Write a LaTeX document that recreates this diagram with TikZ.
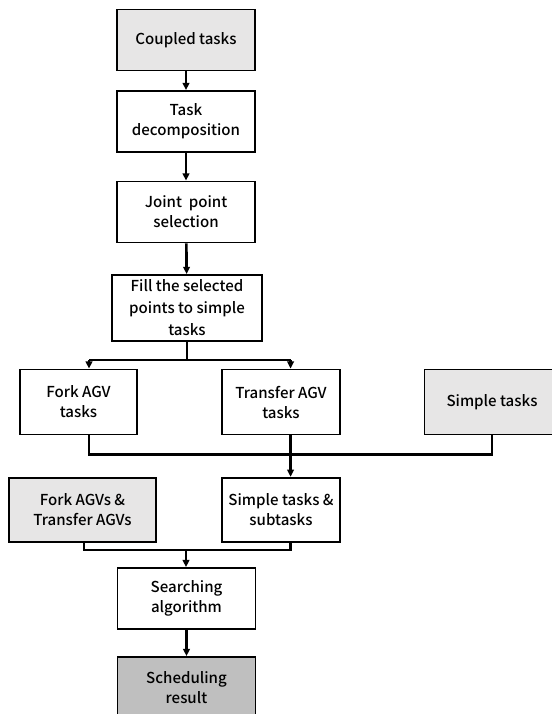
\documentclass[tikz,border=0pt]{standalone}
\usepackage{fontspec}
\setmainfont{Noto Sans CJK SC}[BoldFont={Noto Sans CJK SC Medium}]
\usepackage{xcolor}
\usetikzlibrary{arrows.meta}

\definecolor{taskgray}{HTML}{E7E6E6}
\definecolor{resultgray}{HTML}{BFBFBF}

\begin{document}
\begin{tikzpicture}[
  x=0.75pt, y=-0.75pt,
  box/.style={draw, line width=1.3pt, fill=#1, align=center, inner sep=2pt,
              minimum width=103.5pt, minimum height=45.75pt,
              font=\bfseries\fontsize{11.3}{15}\selectfont},
  box/.default=white,
  link/.style={line width=2pt},
  arr/.style={link, -{Triangle[length=5.5pt,width=5pt]}}
]
  \useasboundingbox (0,0) rectangle (551,714);

  % Main column
  \node[box=taskgray] (coupled) at (186,40) {Coupled tasks};
  \node[box] (decomp) at (186,121.5) {Task\\decomposition};
  \node[box] (joint) at (186,212) {Joint~ point\\selection};
  \node[box, minimum width=112.5pt, minimum height=49.5pt, inner sep=1pt,
        font=\bfseries\fontsize{11.3}{16.5}\selectfont] (fill) at (187,308)
        {Fill the selected\\points to simple\\tasks};

  % Task groups
  \node[box, minimum width=87.75pt, minimum height=48.75pt] (fork) at (78.5,402) {Fork AGV\\tasks};
  \node[box, minimum width=88.5pt, minimum height=48.75pt] (transfer) at (281,402) {Transfer AGV\\tasks};
  \node[box=taskgray, minimum width=101.25pt, minimum height=48.75pt] (simple) at (492,402) {Simple tasks};
  \node[box=taskgray, minimum width=110.25pt, minimum height=48.4pt] (agvs) at (82.5,510) {Fork AGVs \&\\Transfer AGVs};
  \node[box, minimum width=88.5pt, minimum height=48.4pt] (subtasks) at (281,510) {Simple tasks \&\\subtasks};

  % Search and result
  \node[box] (search) at (186.5,598.5) {Searching\\algorithm};
  \node[box=resultgray, minimum height=46.5pt] (result) at (186.5,688) {Scheduling\\result};

  % Junction points
  \coordinate (split) at (187,360);
  \coordinate (forkin) at (89,360);
  \coordinate (transin) at (290.6,360);
  \coordinate (merge) at (290.6,454.7);
  \coordinate (agvsout) at (84,550);
  \coordinate (join) at (186,550);

  % Straight arrows
  \draw[arr] (coupled) -- (decomp);
  \draw[arr] (decomp) -- (joint);
  \draw[arr] (joint) -- (fill);

  % Split into fork / transfer tasks
  \draw[link] (fill) -- (split);
  \draw[link] (forkin) -- (transin);
  \draw[arr] (forkin) -- (forkin |- fork.north);
  \draw[arr] (transin) -- (transin |- transfer.north);

  % Merge into subtasks
  \draw[link] (fork.south -| forkin) |- (simple.south |- merge) -- (simple.south);
  \draw[link] (transfer.south -| merge) -- (merge);
  \draw[arr] (merge) -- (subtasks.north -| merge);

  % Merge into search
  \draw[link] (agvs.south -| agvsout) -- (agvsout) -- (agvsout -| merge) -- (subtasks.south -| merge);
  \draw[arr] (join) -- (search.north -| join);
  \draw[arr] (search) -- (result);
\end{tikzpicture}
\end{document}
